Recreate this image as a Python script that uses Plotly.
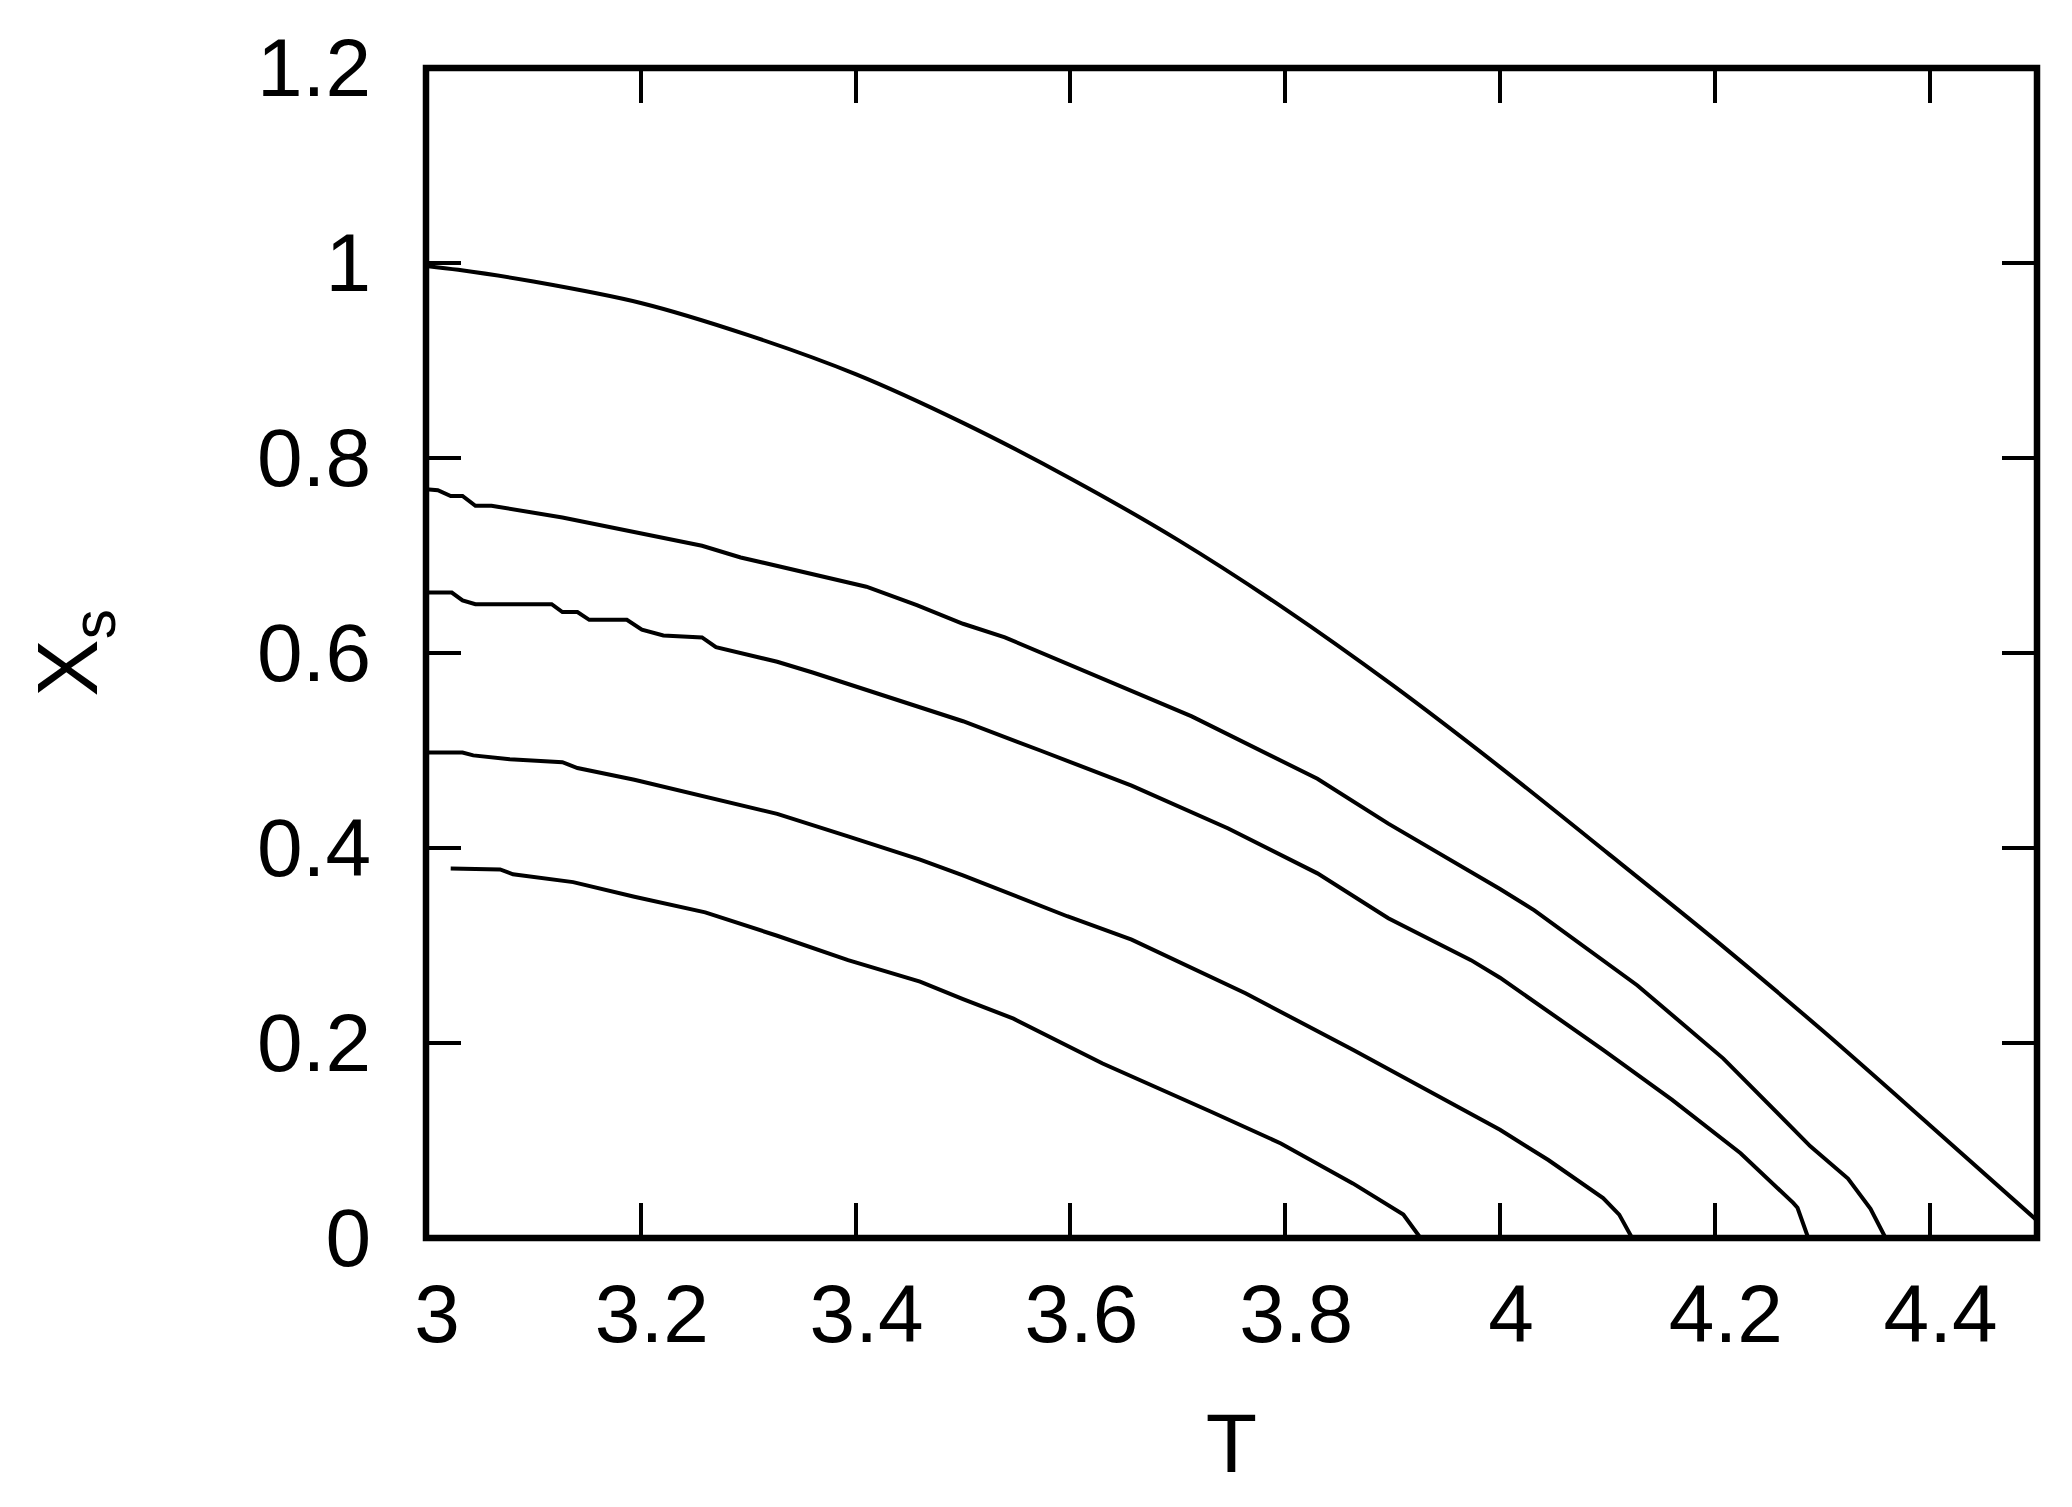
import plotly.graph_objects as go

# Curve data (T, X_s)
t1 = [3.0, 3.03, 3.1, 3.2, 3.3, 3.4, 3.5, 3.6, 3.7, 3.8, 3.9, 4.0, 4.1, 4.2, 4.3, 4.4, 4.5]
x1 = [0.997, 0.993, 0.981, 0.959, 0.926, 0.886, 0.836, 0.779, 0.716, 0.645, 0.567, 0.483, 0.395, 0.306, 0.213, 0.116, 0.018]

t2 = [3.0, 3.011, 3.023, 3.034, 3.046, 3.061, 3.127, 3.210, 3.257, 3.293, 3.350, 3.410, 3.457, 3.500,
      3.539, 3.630, 3.713, 3.830, 3.896, 4.0, 4.032, 4.128, 4.208, 4.289, 4.324, 4.345, 4.359]
x2 = [0.768, 0.767, 0.761, 0.761, 0.751, 0.751, 0.739, 0.721, 0.710, 0.698, 0.683, 0.668, 0.649, 0.630,
      0.616, 0.574, 0.535, 0.471, 0.425, 0.358, 0.336, 0.259, 0.184, 0.094, 0.061, 0.030, 0.0]

t3 = [3.0, 3.024, 3.034, 3.046, 3.117, 3.127, 3.141, 3.152, 3.187, 3.201, 3.221, 3.257, 3.270, 3.327,
      3.360, 3.410, 3.460, 3.500, 3.572, 3.657, 3.747, 3.830, 3.896, 3.973, 4.0, 4.096, 4.160, 4.224,
      4.273, 4.277, 4.287]
x3 = [0.662, 0.662, 0.654, 0.650, 0.650, 0.642, 0.642, 0.634, 0.634, 0.624, 0.618, 0.616, 0.606, 0.591,
      0.580, 0.562, 0.544, 0.530, 0.500, 0.464, 0.420, 0.374, 0.328, 0.285, 0.267, 0.193, 0.142, 0.087,
      0.036, 0.031, 0.0]

t4 = [3.0, 3.034, 3.044, 3.078, 3.127, 3.141, 3.194, 3.260, 3.327, 3.393, 3.460, 3.500, 3.540, 3.597,
      3.657, 3.763, 3.863, 3.963, 4.0, 4.045, 4.096, 4.111, 4.123]
x4 = [0.498, 0.498, 0.495, 0.491, 0.488, 0.482, 0.470, 0.453, 0.435, 0.412, 0.388, 0.372, 0.355, 0.330,
      0.306, 0.251, 0.193, 0.133, 0.111, 0.080, 0.041, 0.024, 0.0]

t5 = [3.023, 3.069, 3.081, 3.137, 3.194, 3.260, 3.327, 3.393, 3.460, 3.500, 3.547, 3.630, 3.730, 3.796,
      3.863, 3.910, 3.926]
x5 = [0.379, 0.378, 0.373, 0.365, 0.350, 0.334, 0.310, 0.285, 0.263, 0.245, 0.225, 0.179, 0.130, 0.097,
      0.056, 0.024, 0.0]

x_ticks = [3, 3.2, 3.4, 3.6, 3.8, 4, 4.2, 4.4]
x_tick_text = ["3", "3.2", "3.4", "3.6", "3.8", "4", "4.2", "4.4"]
y_ticks = [0, 0.2, 0.4, 0.6, 0.8, 1, 1.2]
y_tick_text = ["0", "0.2", "0.4", "0.6", "0.8", "1", "1.2"]

FONT = "Liberation Sans, Arial, sans-serif"

fig = go.Figure()
for i, (tt, xx) in enumerate([(t1, x1), (t2, x2), (t3, x3), (t4, x4), (t5, x5)]):
    shape = "spline" if i == 0 else "linear"
    fig.add_trace(go.Scatter(x=tt, y=xx, mode="lines",
                             line=dict(color="black", width=4, shape=shape, smoothing=0.8),
                             showlegend=False, hoverinfo="skip"))

axis_common = dict(
    showline=False, mirror="ticks",
    ticks="inside", ticklen=35, tickwidth=3.5, tickcolor="black",
    showgrid=False, zeroline=False,
    tickfont=dict(family=FONT, size=82, color="black"),
)

fig.update_xaxes(range=[3, 4.5], tickvals=x_ticks, ticktext=x_tick_text,
                 title=dict(text="T", font=dict(family=FONT, size=84, color="black"), standoff=55),
                 ticklabelstandoff=21, ticklabelshift=11,
                 **axis_common)
fig.update_yaxes(range=[0, 1.2], tickvals=y_ticks, ticktext=y_tick_text,
                 title=dict(text="X<sub>s</sub>", font=dict(family=FONT, size=86, color="black"), standoff=130),
                 ticklabelstandoff=54, ticklabelshift=-1,
                 **axis_common)

# plot frame, centred on the plot-area edges
fig.add_shape(type="rect", xref="paper", yref="paper", x0=0, x1=1, y0=0, y1=1,
              line=dict(color="black", width=6.5), fillcolor="rgba(0,0,0,0)", layer="above")

# the page body keeps its default 8 px margin, so the figure is 8 px smaller
fig.update_layout(
    width=2064, height=1499,
    margin=dict(l=418, r=35, t=60, b=269, autoexpand=False),
    paper_bgcolor="white", plot_bgcolor="white",
    font=dict(family=FONT, color="black"),
)

fig.write_html("out.html")
